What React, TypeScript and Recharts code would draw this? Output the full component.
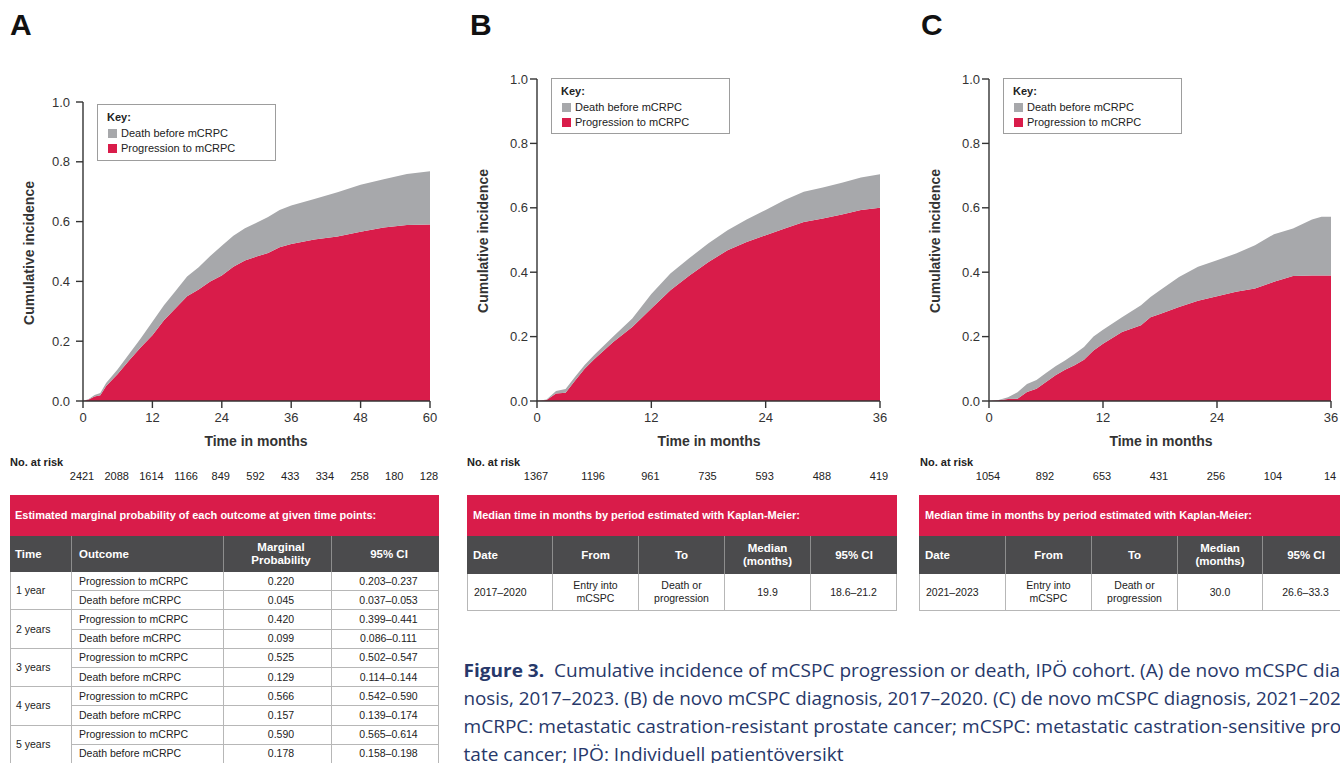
import React from 'react';
import { AreaChart, Area, XAxis, YAxis } from 'recharts';

const RED = '#d91c4a';
const GREY = '#a7a8ab';
const INK = '#333333';
const DARK = '#4b4b4d';
const RULE = '#b7b7b7';
const NAVY = '#27386a';
const FONT = '"Liberation Sans", Arial, Helvetica, sans-serif';

// A: de novo mCSPC 2017–2023 (0–60 months)
const monthsA = [0, 1, 2, 3, 4, 6, 8, 10, 12, 14, 16, 18, 20, 22, 24, 26, 28, 30, 32, 34, 36, 40, 44, 48, 52, 56, 60];
const progressionA = [0, 0.005, 0.015, 0.019, 0.05, 0.09, 0.136, 0.18, 0.22, 0.27, 0.31, 0.35, 0.373, 0.4, 0.42, 0.449, 0.47, 0.483, 0.495, 0.514, 0.525, 0.54, 0.55, 0.566, 0.58, 0.589, 0.59];
const deathA = [0, 0.002, 0.005, 0.008, 0.01, 0.016, 0.022, 0.03, 0.045, 0.05, 0.058, 0.066, 0.074, 0.085, 0.099, 0.104, 0.108, 0.113, 0.12, 0.125, 0.129, 0.136, 0.148, 0.157, 0.162, 0.17, 0.178];
const atRiskA = [2421, 2088, 1614, 1166, 849, 592, 433, 334, 258, 180, 128];

// B: de novo mCSPC 2017–2020 (0–36 months)
const monthsB = [0, 1, 2, 3, 4, 5, 6, 8, 10, 12, 14, 16, 18, 20, 22, 24, 26, 28, 30, 32, 34, 36];
const progressionB = [0, 0.003, 0.023, 0.026, 0.064, 0.1, 0.13, 0.183, 0.23, 0.287, 0.344, 0.39, 0.432, 0.468, 0.494, 0.515, 0.536, 0.556, 0.567, 0.579, 0.593, 0.6];
const deathB = [0, 0.002, 0.008, 0.011, 0.011, 0.012, 0.013, 0.017, 0.026, 0.045, 0.052, 0.054, 0.058, 0.062, 0.07, 0.078, 0.088, 0.094, 0.096, 0.099, 0.101, 0.104];
const atRiskB = [1367, 1196, 961, 735, 593, 488, 419];

// C: de novo mCSPC 2021–2023 (0–36 months)
const monthsC = [0, 1, 2, 3, 4, 5, 6, 7, 8, 9, 10, 11, 12, 14, 16, 17, 18, 20, 22, 24, 26, 28, 30, 32, 34, 35, 36];
const progressionC = [0, 0.002, 0.006, 0.007, 0.028, 0.038, 0.059, 0.08, 0.097, 0.111, 0.128, 0.157, 0.178, 0.214, 0.235, 0.26, 0.27, 0.292, 0.311, 0.325, 0.339, 0.349, 0.37, 0.388, 0.39, 0.39, 0.39];
const deathC = [0, 0.001, 0.006, 0.02, 0.025, 0.027, 0.028, 0.028, 0.029, 0.035, 0.04, 0.043, 0.043, 0.046, 0.062, 0.063, 0.074, 0.093, 0.106, 0.112, 0.119, 0.135, 0.148, 0.148, 0.174, 0.182, 0.182];
const atRiskC = [1054, 892, 653, 431, 256, 104, 14];

const yTicks = [0, 0.2, 0.4, 0.6, 0.8, 1.0];
const xTicks60 = [0, 12, 24, 36, 48, 60];
const xTicks36 = [0, 12, 24, 36];

// marginal probability table (panel A)
const tableYears = ['1 year', '2 years', '3 years', '4 years', '5 years'];
const progProb = ['0.220', '0.420', '0.525', '0.566', '0.590'];
const progCI = ['0.203–0.237', '0.399–0.441', '0.502–0.547', '0.542–0.590', '0.565–0.614'];
const deathProb = ['0.045', '0.099', '0.129', '0.157', '0.178'];
const deathCI = ['0.037–0.053', '0.086–0.111', '0.114–0.144', '0.139–0.174', '0.158–0.198'];

// Kaplan-Meier median tables (panels B, C)
const medianHead = ['Date', 'From', 'To', 'Median\n(months)', '95% CI'];
const medianRowB = ['2017–2020', 'Entry into\nmCSPC', 'Death or\nprogression', '19.9', '18.6–21.2'];
const medianRowC = ['2021–2023', 'Entry into\nmCSPC', 'Death or\nprogression', '30.0', '26.6–33.3'];

const captionLines = [
  '  Cumulative incidence of mCSPC progression or death, IPÖ cohort. (A) de novo mCSPC diag-',
  'nosis, 2017–2023. (B) de novo mCSPC diagnosis, 2017–2020. (C) de novo mCSPC diagnosis, 2021–2023.',
  'mCRPC: metastatic castration-resistant prostate cancer; mCSPC: metastatic castration-sensitive pros-',
  'tate cancer; IPÖ: Individuell patientöversikt',
];

type Margin = { top: number; right: number; bottom: number; left: number };

interface ChartProps {
  months: number[];
  progression: number[];
  death: number[];
  xMax: number;
  xTicks: number[];
  width: number;
  height: number;
  margin: Margin;
  yTickMargin: number;
}

const IncidenceChart: React.FC<ChartProps> = ({ months, progression, death, xMax, xTicks, width, height, margin, yTickMargin }) => {
  const data = months.map((t, i) => ({ t, progression: progression[i], death: death[i] }));
  return (
    <AreaChart width={width} height={height} data={data} margin={margin}>
      <XAxis
        dataKey="t"
        type="number"
        domain={[0, xMax]}
        ticks={xTicks}
        interval={0}
        height={40}
        tickSize={7}
        tickMargin={5}
        axisLine={{ stroke: INK, strokeWidth: 1.4 }}
        tickLine={{ stroke: INK, strokeWidth: 1.4 }}
        tick={{ fill: INK, fontSize: 13 }}
      />
      <YAxis
        type="number"
        domain={[0, 1]}
        ticks={yTicks}
        interval={0}
        width={40}
        tickSize={7}
        tickMargin={yTickMargin}
        tickFormatter={(v: number) => v.toFixed(1)}
        axisLine={{ stroke: INK, strokeWidth: 1.4 }}
        tickLine={{ stroke: INK, strokeWidth: 1.4 }}
        tick={{ fill: INK, fontSize: 13 }}
      />
      <Area type="linear" dataKey="progression" stackId="ci" stroke="none" fill={RED} fillOpacity={1} dot={false} activeDot={false} isAnimationActive={false} />
      <Area type="linear" dataKey="death" stackId="ci" stroke="none" fill={GREY} fillOpacity={1} dot={false} activeDot={false} isAnimationActive={false} />
    </AreaChart>
  );
};

const abs = (x: number, y: number, extra: React.CSSProperties = {}): React.CSSProperties => ({
  position: 'absolute',
  left: x,
  top: y,
  ...extra,
});

const KeyBox: React.FC<{ x: number; y: number; h: number }> = ({ x, y, h }) => (
  <div style={abs(x, y, { width: 179, height: h, border: '1px solid #9d9d9d', background: '#fff', boxSizing: 'border-box', fontSize: 11, color: '#222' })}>
    <div style={abs(9, 6, { fontWeight: 'bold', lineHeight: '13px' })}>Key:</div>
    <div style={abs(9.5, 24, { width: 9, height: 9, background: GREY })} />
    <div style={abs(23, 22, { lineHeight: '13px', whiteSpace: 'nowrap' })}>Death before mCRPC</div>
    <div style={abs(9.5, 39, { width: 9, height: 9, background: RED })} />
    <div style={abs(23, 37, { lineHeight: '13px', whiteSpace: 'nowrap' })}>Progression to mCRPC</div>
  </div>
);

const Centered: React.FC<{ x: number; y: number; style?: React.CSSProperties; children: React.ReactNode }> = ({ x, y, style, children }) => (
  <div style={abs(x, y, { transform: 'translate(-50%, -50%)', whiteSpace: 'nowrap', ...style })}>{children}</div>
);

const PanelText: React.FC<{
  letter: string; letterX: number; yTitleX: number; yTitleY: number; xTitleX: number;
  riskLabelX: number; plotLeft: number; plotW: number; xMax: number; risk: number[];
}> = ({ letter, letterX, yTitleX, yTitleY, xTitleX, riskLabelX, plotLeft, plotW, xMax, risk }) => (
  <>
    <div style={abs(letterX, 10, { fontSize: 30, fontWeight: 'bold', lineHeight: '30px', color: '#111' })}>{letter}</div>
    <Centered x={yTitleX} y={yTitleY} style={{ transform: 'translate(-50%, -50%) rotate(-90deg)', fontSize: 14, fontWeight: 'bold', color: INK }}>
      Cumulative incidence
    </Centered>
    <Centered x={xTitleX} y={441} style={{ fontSize: 14, fontWeight: 'bold', color: INK }}>Time in months</Centered>
    <div style={abs(riskLabelX, 456, { fontSize: 11, fontWeight: 'bold', lineHeight: '13px', color: '#222' })}>No. at risk</div>
    {risk.map((n, i) => (
      <Centered key={i} x={plotLeft + ((i * 6) / xMax) * plotW - 1} y={476} style={{ fontSize: 11, color: '#222' }}>
        {n}
      </Centered>
    ))}
  </>
);

const Cell: React.FC<{
  x: number; y: number; w: number; h: number; left?: boolean; style?: React.CSSProperties; children?: React.ReactNode;
}> = ({ x, y, w, h, left, style, children }) => (
  <div
    style={abs(x, y, {
      width: w,
      height: h,
      boxSizing: 'border-box',
      display: 'flex',
      alignItems: 'center',
      justifyContent: left ? 'flex-start' : 'center',
      textAlign: left ? 'left' : 'center',
      paddingLeft: left ? 6 : 0,
      whiteSpace: 'pre-line',
      lineHeight: '13px',
      ...style,
    })}
  >
    {children}
  </div>
);

const MarginalTable: React.FC = () => {
  const cols = [10, 72, 224, 332, 439];
  const bodyTop = 572;
  const sub = 19.2;
  const head = ['Time', 'Outcome', 'Marginal\nProbability', '95% CI'];
  return (
    <>
      <Cell x={10} y={495} w={429} h={41} left style={{ background: RED, color: '#fff', fontWeight: 'bold', fontSize: 11, paddingLeft: 5 }}>
        Estimated marginal probability of each outcome at given time points:
      </Cell>
      {head.map((h, c) => (
        <Cell key={h} x={cols[c]} y={536} w={cols[c + 1] - cols[c]} h={36} left={c < 2}
          style={{ background: DARK, color: '#fff', fontWeight: 'bold', fontSize: 11.5, paddingLeft: c === 0 ? 5 : 7, borderRight: c < 3 ? '1px solid #8d8d8d' : 'none' }}>
          {h}
        </Cell>
      ))}
      {tableYears.map((yr, g) => {
        const y0 = bodyTop + g * 2 * sub;
        const rows = [
          ['Progression to mCRPC', progProb[g], progCI[g]],
          ['Death before mCRPC', deathProb[g], deathCI[g]],
        ];
        return (
          <React.Fragment key={yr}>
            <Cell x={cols[0]} y={y0} w={cols[1] - cols[0]} h={2 * sub} left
              style={{ fontSize: 10.5, color: '#222', paddingLeft: 5, borderLeft: `1px solid ${RULE}`, borderRight: `1px solid ${RULE}`, borderBottom: `1px solid ${RULE}` }}>
              {yr}
            </Cell>
            {rows.map((r, s) =>
              r.map((txt, c) => (
                <Cell key={`${s}-${c}`} x={cols[c + 1]} y={y0 + s * sub} w={cols[c + 2] - cols[c + 1]} h={sub} left={c === 0}
                  style={{ fontSize: 10.5, color: '#222', paddingLeft: 7, borderRight: `1px solid ${RULE}`, borderBottom: `1px solid ${RULE}` }}>
                  {txt}
                </Cell>
              ))
            )}
          </React.Fragment>
        );
      })}
    </>
  );
};

const MedianTable: React.FC<{ cols: number[]; row: string[] }> = ({ cols, row }) => (
  <>
    <Cell x={cols[0]} y={495} w={cols[5] - cols[0]} h={41} left style={{ background: RED, color: '#fff', fontWeight: 'bold', fontSize: 11 }}>
      Median time in months by period estimated with Kaplan-Meier:
    </Cell>
    {medianHead.map((h, c) => (
      <Cell key={h} x={cols[c]} y={536} w={cols[c + 1] - cols[c]} h={38} left={c === 0}
        style={{ background: DARK, color: '#fff', fontWeight: 'bold', fontSize: 11.5, borderRight: c < 4 ? '1px solid #8d8d8d' : 'none' }}>
        {h}
      </Cell>
    ))}
    {row.map((txt, c) => (
      <Cell key={c} x={cols[c]} y={574} w={cols[c + 1] - cols[c]} h={37} left={c === 0}
        style={{ fontSize: 10.5, color: '#222', borderLeft: c === 0 ? `1px solid ${RULE}` : 'none', borderRight: `1px solid ${RULE}`, borderBottom: `1px solid ${RULE}` }}>
        {txt}
      </Cell>
    ))}
  </>
);

const Caption: React.FC = () => {
  const baselines = [37, 65, 93, 121];
  const lengths = [893, 893, 893, 380];
  return (
    <svg width={880} height={123} style={abs(460, 640, { overflow: 'visible' })}>
      {captionLines.map((line, i) => (
        <text key={i} x={3.5} y={baselines[i]} textLength={lengths[i]} lengthAdjust="spacingAndGlyphs"
          style={{ whiteSpace: 'pre', fontFamily: '"Open Sans", "Noto Sans", sans-serif', fontSize: 18.5, fill: NAVY }}>
          {i === 0 && <tspan fontWeight="bold">Figure 3.</tspan>}
          {line}
        </text>
      ))}
    </svg>
  );
};

export default function App() {
  return (
    <div style={{ position: 'absolute', left: 0, top: 0, width: 1340, height: 763, overflow: 'hidden', background: '#fff', fontFamily: FONT }}>
      {/* Panel A */}
      <div style={abs(0, 60)}>
        <IncidenceChart months={monthsA} progression={progressionA} death={deathA} xMax={60} xTicks={xTicks60}
          width={450} height={400} margin={{ top: 42, right: 20, bottom: 19, left: 43 }} yTickMargin={6} />
      </div>
      <KeyBox x={97} y={104} h={57} />
      <PanelText letter="A" letterX={10} yTitleX={28.5} yTitleY={253} xTitleX={256} riskLabelX={10}
        plotLeft={83} plotW={347} xMax={60} risk={atRiskA} />
      <MarginalTable />

      {/* Panel B */}
      <div style={abs(460, 40)}>
        <IncidenceChart months={monthsB} progression={progressionB} death={deathB} xMax={36} xTicks={xTicks36}
          width={440} height={420} margin={{ top: 39, right: 20, bottom: 19, left: 37 }} yTickMargin={2} />
      </div>
      <KeyBox x={551} y={78} h={56} />
      <PanelText letter="B" letterX={470} yTitleX={482.5} yTitleY={241} xTitleX={709} riskLabelX={467}
        plotLeft={537} plotW={343} xMax={36} risk={atRiskB} />
      <MedianTable cols={[467, 553, 639, 725, 811, 897]} row={medianRowB} />

      {/* Panel C */}
      <div style={abs(910, 40)}>
        <IncidenceChart months={monthsC} progression={progressionC} death={deathC} xMax={36} xTicks={xTicks36}
          width={440} height={420} margin={{ top: 39, right: 19, bottom: 19, left: 39 }} yTickMargin={2} />
      </div>
      <KeyBox x={1003} y={78} h={56} />
      <PanelText letter="C" letterX={921} yTitleX={935} yTitleY={241} xTitleX={1161} riskLabelX={920}
        plotLeft={989} plotW={342} xMax={36} risk={atRiskC} />
      <MedianTable cols={[919, 1006, 1092, 1178, 1263, 1349]} row={medianRowC} />

      <Caption />
    </div>
  );
}
